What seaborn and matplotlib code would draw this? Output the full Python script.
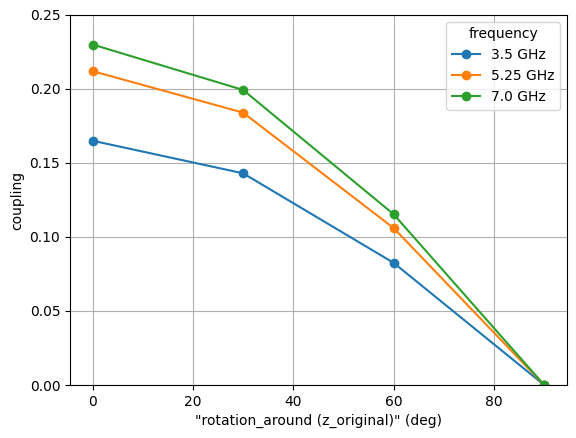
import matplotlib
matplotlib.use("Agg")
import matplotlib.pyplot as plt
import seaborn as sns
import pandas as pd

rotation = [0, 30, 60, 90]
frequencies = ["3.5 GHz", "5.25 GHz", "7.0 GHz"]
coupling_3_5 = [0.165, 0.143, 0.0825, 0.0]
coupling_5_25 = [0.212, 0.184, 0.106, 0.0]
coupling_7_0 = [0.230, 0.1993, 0.1153, 0.0]

rows = []
for freq, vals in zip(frequencies, [coupling_3_5, coupling_5_25, coupling_7_0]):
    for r, v in zip(rotation, vals):
        rows.append({"rotation": r, "coupling": v, "frequency": freq})
df = pd.DataFrame(rows)

fig = plt.figure(figsize=(5.76, 4.38), dpi=100)
ax = fig.add_axes([0.1215, 0.121, 0.8625, 0.845])

palette = sns.color_palette("tab10", 3)
sns.lineplot(data=df, x="rotation", y="coupling", hue="frequency",
             hue_order=frequencies, palette=palette, marker="o",
             markersize=6, ax=ax)

for line in ax.get_lines():
    line.set_markeredgecolor(line.get_color())
    line.set_markeredgewidth(1.0)

ax.set_ylim(0, 0.25)
ax.set_xlabel('"rotation_around (z_original)" (deg)')
ax.set_ylabel("coupling")
ax.grid(True)
ax.set_axisbelow(True)

leg = ax.legend(title="frequency", loc="upper right")
for h in leg.legend_handles:
    h.set_markeredgecolor(h.get_color())

fig.savefig("out.png", dpi=100)
